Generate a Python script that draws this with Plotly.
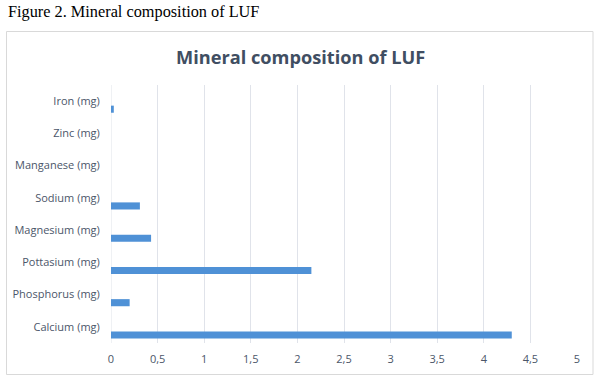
import plotly.graph_objects as go

categories = ["Calcium (mg)", "Phosphorus (mg)", "Pottasium (mg)", "Magnesium (mg)",
              "Sodium (mg)", "Manganese (mg)", "Zinc (mg)", "Iron (mg)"]
values = [4.3, 0.2, 2.15, 0.43, 0.31, 0.0, 0.0, 0.03]
x_ticks = [0, 0.5, 1, 1.5, 2, 2.5, 3, 3.5, 4, 4.5, 5]

W, H = 600, 380
fig = go.Figure()
fig.add_trace(go.Bar(
    y=categories, x=values, orientation="h",
    width=0.22, offset=-0.36,
    marker=dict(color="#4f91d6", line=dict(width=0)),
    hoverinfo="x+y",
))

tick_font = dict(family="Open Sans", size=11, color="#4b5669")
fig.update_layout(
    width=W, height=H,
    margin=dict(l=0, r=0, t=0, b=0),
    paper_bgcolor="white", plot_bgcolor="white",
    separators=",.",
    showlegend=False,
    xaxis=dict(domain=[111 / W, 577 / W], range=[0, 5], tickvals=x_ticks,
               showgrid=True, gridcolor="#e0e3ea", gridwidth=1,
               zeroline=False, showline=False, automargin=False,
               ticks="outside", ticklen=6, tickcolor="rgba(0,0,0,0)",
               tickfont=tick_font, fixedrange=True),
    yaxis=dict(domain=[1 - 343 / H, 1 - 85 / H], type="category",
               categoryorder="array", categoryarray=categories,
               range=[-0.5, 7.5], showgrid=False, zeroline=False, showline=False,
               automargin=False, ticks="outside", ticklen=8,
               tickcolor="rgba(0,0,0,0)", tickfont=tick_font, fixedrange=True),
    shapes=[
        dict(type="rect", xref="paper", yref="paper",
             x0=6.5 / W, x1=593 / W, y0=1 - 374.5 / H, y1=1 - 31.5 / H,
             line=dict(color="#d9d9d9", width=1), fillcolor="rgba(0,0,0,0)",
             layer="below"),
        dict(type="line", xref="x", yref="paper", x0=0, x1=0,
             y0=1 - 343 / H, y1=1 - 85 / H,
             line=dict(color="#e0e3ea", width=1), layer="below"),
    ],
    annotations=[
        dict(text="Figure 2. Mineral composition of LUF", xref="paper", yref="paper",
             x=6 / W, y=1 - 12 / H, xanchor="left", yanchor="middle", showarrow=False,
             font=dict(family="Liberation Serif", size=16.3, color="black")),
        dict(text="<b>Mineral composition of LUF</b>", xref="paper", yref="paper",
             x=300 / W, y=1 - 57 / H, xanchor="center", yanchor="middle", showarrow=False,
             font=dict(family="Open Sans", size=18.2, color="#404e62")),
    ],
)
fig.write_html("out.html", config={"displayModeBar": False},
               post_script="document.body.style.margin='0px';document.body.style.overflow='hidden';")
